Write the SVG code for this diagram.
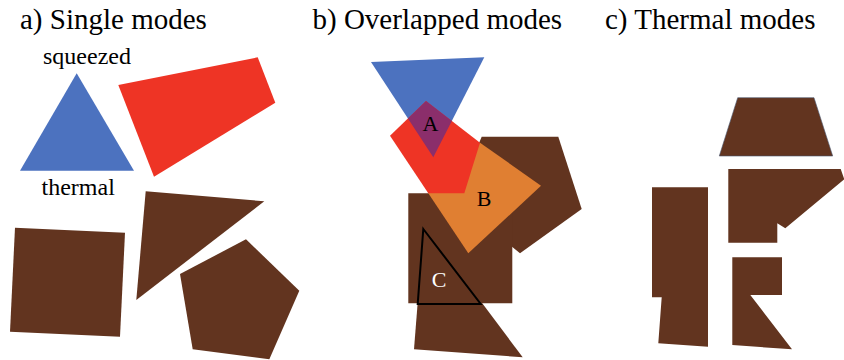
<svg xmlns="http://www.w3.org/2000/svg" width="844" height="360" viewBox="0 0 844 360">
<defs>
<style>
.title{font-size:29px;fill:#000}
.lbl{font-size:24px;fill:#000}
.mark{font-size:22px;fill:#000;text-anchor:middle}
.blue{fill:#4c72bf}
.red{fill:#ee3425}
.brown{fill:#62341f}
.orange{fill:#e07f32}
.purple{fill:#8b2e6b}
</style>
<clipPath id="redClip"><polygon points="426,101 480,142.7 464.3,193.3 428.3,193.3 390,135.7"/></clipPath>
</defs>
<rect width="844" height="360" fill="#fff"/>

<g id="panel-a" font-family="'Liberation Serif', 'Times New Roman', 'DejaVu Serif', serif">
<text class="title" x="20" y="29">a) Single modes</text>
<text class="lbl" x="43" y="64">squeezed</text>
<text class="lbl" x="41.5" y="195">thermal</text>
<g id="a-squeezed"><polygon class="blue" points="76.7,73.3 134,170.7 20,170.7"/></g>
<g id="a-red"><polygon class="red" points="118.3,85 257.7,57.3 275.3,102.7 154,176.7"/></g>
<g id="a-square"><polygon class="brown" points="15,227.7 125,232.7 120,336.7 10,331.7"/></g>
<g id="a-triangle"><polygon class="brown" points="145.7,191.3 264.3,201.3 136.3,300"/></g>
<g id="a-pentagon"><polygon class="brown" points="180,274 246,239.3 299.3,290.7 269.3,359.3 192.7,349.3"/></g>
</g>

<g id="panel-b" font-family="'Liberation Serif', 'Times New Roman', 'DejaVu Serif', serif">
<text class="title" x="312.5" y="29">b) Overlapped modes</text>
<g id="b-pentagon"><polygon class="brown" points="481.7,136.7 558.3,136.7 581.7,209 520,253.3 455,200"/></g>
<g id="b-square"><polygon class="brown" points="408.3,193.3 512.3,193.3 512.3,303.3 408.3,303.3"/></g>
<g id="b-lower"><polygon class="brown" points="417.7,302.5 481.7,302.5 522.7,357.3 414,349.3"/></g>
<g id="b-orange"><polygon class="orange" points="480,142.7 541,185.7 468.3,253.3 428.3,193.3 440,175"/></g>
<g id="b-blue"><polygon class="blue" points="371,62 484.3,57.3 433.3,157.3"/></g>
<g id="b-red"><polygon class="red" points="426,101 480,142.7 464.3,193.3 428.3,193.3 390,135.7"/></g>
<g id="b-overlapA"><polygon class="purple" clip-path="url(#redClip)" points="371,62 484.3,57.3 433.3,157.3"/></g>
<g id="b-C"><polygon points="423.3,229 480.7,304 417.7,304" fill="none" stroke="#000" stroke-width="2" stroke-linejoin="miter"/></g>
<text class="mark" x="430.5" y="131">A</text>
<text class="mark" x="484" y="206">B</text>
<text class="mark" x="439" y="286.5" fill="#fff" style="fill:#fff">C</text>
</g>

<g id="panel-c" font-family="'Liberation Serif', 'Times New Roman', 'DejaVu Serif', serif">
<text class="title" x="605" y="29">c) Thermal modes</text>
<g id="c-trapezoid"><polygon class="brown" stroke="#4a5870" stroke-width="0.6" points="737.7,97.7 814,97.7 832.7,156 719.3,156"/></g>
<g id="c-upper"><polygon class="brown" points="728.3,169 840.7,169 844.3,179.3 785.3,228.3 777.3,223.3 777.3,242.7 728.3,242.7"/></g>
<g id="c-left"><polygon class="brown" points="652,187.3 708,187.3 708,346.7 658.3,343.3 661.7,297.3 652,297.3"/></g>
<g id="c-lower"><polygon class="brown" points="732.3,257.3 782,257.3 782,295 750.3,295 792,349.3 732.3,345"/></g>
</g>
</svg>
